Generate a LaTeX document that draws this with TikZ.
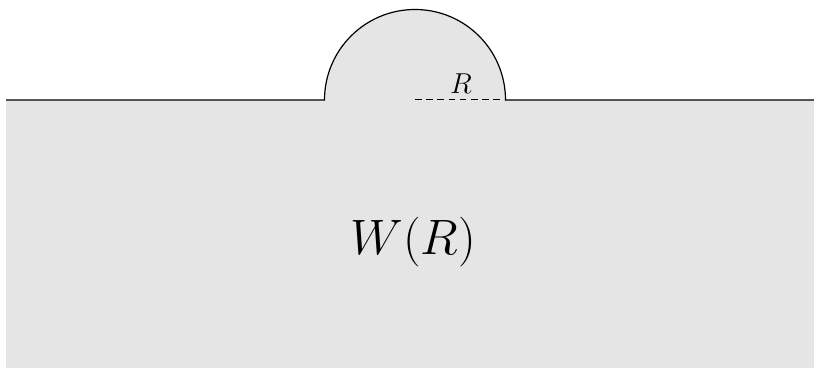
\documentclass[tikz,border=0pt]{standalone}
\begin{document}
\begin{tikzpicture}[x=0.5pt,y=-0.5pt,
  bound/.style={line width=0.6pt},
  radius line/.style={line width=0.5pt,dash pattern=on 3.3pt off 2.3pt},
  smalllabel/.style={font=\fontsize{14}{16}\selectfont},
  biglabel/.style={font=\fontsize{24.5}{28}\selectfont}]
\useasboundingbox (0,0) rectangle (814,368);
\coordinate (L) at (6,100);
\coordinate (A) at (324.5,100);
\coordinate (C) at (415,100);
\coordinate (B) at (505.5,100);
\coordinate (Rr) at (814,100);
\fill[black!10] (6,368) -- (L) -- (A) arc[start angle=180,end angle=360,radius=90.5] -- (Rr) -- (814,368) -- cycle;
\draw[bound] (L) -- (A) arc[start angle=180,end angle=360,radius=90.5] -- (Rr);
\draw[radius line] (C) -- (B);
\node[smalllabel] (rlab) at (461,84) {$R$};
\node[biglabel] (wlab) at (413,242) {$W(R)$};
\end{tikzpicture}
\end{document}
